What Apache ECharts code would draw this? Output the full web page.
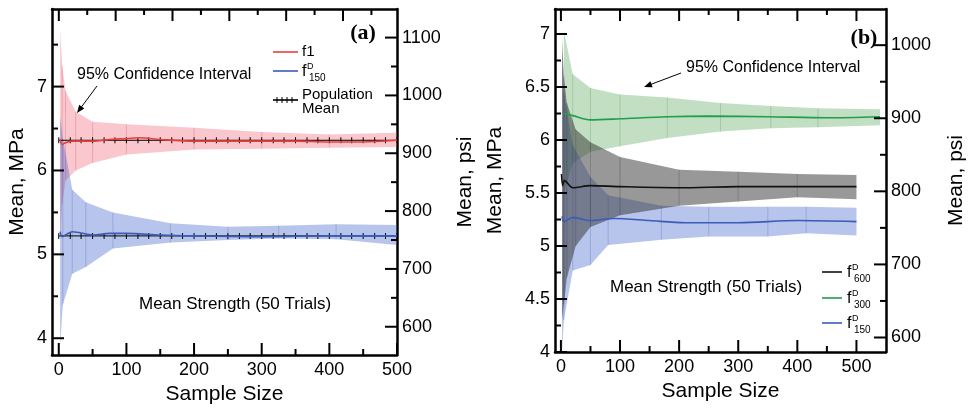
<!DOCTYPE html>
<html>
<head>
<meta charset="utf-8">
<script src="https://cdn.jsdelivr.net/npm/echarts@6/dist/echarts.min.js"></script>
<style>
  html, body { margin: 0; padding: 0; background: #fff; }
  #chart { width: 968px; height: 410px; }
</style>
</head>
<body>
<div id="chart"></div>
<script>
// 1 MPa in psi
const PSI = 145.038;

// ---- panel (a) ----
const aRedN  = [2, 5, 10, 25, 50, 100, 200, 300, 400, 500];
const aRedHi = [7.68, 7.25, 6.95, 6.70, 6.58, 6.55, 6.51, 6.46, 6.43, 6.45];
const aRedLo = [5.15, 5.60, 5.88, 6.00, 6.09, 6.19, 6.25, 6.26, 6.27, 6.28];

const aBlueN  = [2, 6, 20, 40, 80, 165, 250, 325, 410, 500];
const aBlueHi = [6.65, 6.38, 5.77, 5.62, 5.50, 5.37, 5.33, 5.34, 5.36, 5.35];
const aBlueLo = [3.90, 4.40, 4.77, 4.85, 5.07, 5.14, 5.17, 5.19, 5.18, 5.11];

const aF1N = [2, 5, 10, 20, 30, 50, 75, 100, 120, 150, 200, 250, 300, 350, 400, 450, 500];
const aF1  = [6.37, 6.31, 6.33, 6.35, 6.35, 6.35, 6.37, 6.38, 6.39, 6.37, 6.35, 6.35, 6.35, 6.35, 6.34, 6.34, 6.36];

const aF150N = [2, 5, 10, 20, 30, 50, 75, 100, 150, 200, 300, 400, 500];
const aF150  = [5.27, 5.21, 5.23, 5.27, 5.26, 5.23, 5.25, 5.25, 5.23, 5.22, 5.21, 5.22, 5.22];

// population mean, drawn with tick marks
const popN = [0, 17, 33, 50, 67, 83, 100, 117, 133, 150, 167, 183, 200, 217, 233, 250,
              267, 283, 300, 317, 333, 350, 367, 383, 400, 417, 433, 450, 467, 483, 500];
const aPopF1 = 6.36;
const aPopF150 = 5.22;

// ---- panel (b) ----
const bGreenN  = [5, 20, 50, 100, 180, 270, 355, 435, 540];
const bGreenHi = [7.03, 6.62, 6.49, 6.43, 6.40, 6.35, 6.32, 6.30, 6.29];
const bGreenLo = [5.50, 5.78, 5.89, 5.94, 6.02, 6.08, 6.11, 6.12, 6.14];
const bF300N = [5, 20, 50, 100, 180, 250, 350, 450, 540];
const bF300  = [6.25, 6.23, 6.19, 6.20, 6.22, 6.225, 6.22, 6.21, 6.22];

const bGreyN  = [2, 5, 10, 25, 50, 100, 200, 300, 400, 500];
const bGreyHi = [6.95, 6.60, 6.35, 6.10, 5.98, 5.84, 5.72, 5.70, 5.68, 5.67];
const bGreyLo = [4.30, 4.45, 4.70, 5.00, 5.18, 5.29, 5.38, 5.42, 5.46, 5.44];
const bF600N = [1, 3, 6, 10, 20, 50, 100, 200, 300, 400, 500];
const bF600  = [5.68, 5.57, 5.62, 5.60, 5.55, 5.57, 5.56, 5.55, 5.56, 5.56, 5.56];

const bBlueN  = [2, 5, 20, 50, 80, 170, 250, 350, 415, 500];
const bBlueHi = [6.85, 6.45, 5.95, 5.65, 5.48, 5.38, 5.37, 5.37, 5.37, 5.36];
const bBlueLo = [4.00, 4.30, 4.77, 4.82, 5.01, 5.06, 5.09, 5.09, 5.12, 5.10];
const bF150N = [2, 5, 20, 50, 90, 150, 210, 300, 400, 500];
const bF150  = [5.28, 5.23, 5.27, 5.24, 5.26, 5.24, 5.22, 5.22, 5.24, 5.23];

// ---- ticks ----
const aXMajor = [0, 100, 200, 300, 400, 500];
const aXMinor = [50, 150, 250, 350, 450];
const aTopMajor = [0, 100, 200, 300, 400, 500];
const aTopMinor = [50, 150, 250, 350, 450, 550];
const aYMajor = [4, 5, 6, 7];
const aYMinor = [4.5, 5.5, 6.5, 7.5];
const aPsiMajor = [600, 700, 800, 900, 1000, 1100];
const aPsiMinor = [650, 750, 850, 950, 1050];

const bXMajor = [0, 100, 200, 300, 400, 500];
const bXMinor = [50, 150, 250, 350, 450];
const bYMajor = [4, 4.5, 5, 5.5, 6, 6.5, 7];
const bYMinor = [4.25, 4.75, 5.25, 5.75, 6.25, 6.75];
const bPsiMajor = [600, 700, 800, 900, 1000];
const bPsiMinor = [650, 750, 850, 950];

// axis ranges
const aX = [-10, 500], aTop = [-12, 595], aY = [3.80, 7.925];
const bX = [-10, 550], bY = [4.0, 7.236];
const aPsi = [aY[0] * PSI, aY[1] * PSI], bPsi = [bY[0] * PSI, bY[1] * PSI];

const FONT = '"Liberation Sans", Arial, sans-serif';

function axis(grid, pos, range, labels, o) {
  o = o || {};
  return {
    type: 'value', gridIndex: grid, position: pos, min: range[0], max: range[1],
    axisLine: { show: true, onZero: false, lineStyle: { color: '#000', width: 2.5 } },
    axisTick: { show: false },
    axisLabel: { show: !!labels, customValues: labels || [], color: '#000', fontSize: 18,
                 fontFamily: FONT, margin: o.margin || 5, formatter: v => String(v) },
    splitLine: { show: false },
    name: o.name || '', nameLocation: 'middle', nameGap: o.gap || 20,
    nameRotate: o.rotate, nameTextStyle: { color: '#000', fontSize: 21, fontFamily: FONT }
  };
}

// inward tick marks placed through the axis scales
function ticks(xi, yi, side, vals, edge, len) {
  const vert = side === 'left' || side === 'right';
  return {
    type: 'custom', xAxisIndex: xi, yAxisIndex: yi, silent: true, z: 10, clip: false,
    data: vals.map(v => vert ? [edge, v] : [v, edge]),
    renderItem: function (params, api) {
      const p = api.coord([api.value(0), api.value(1)]);
      let dx = 0, dy = 0;
      if (side === 'left') dx = len;
      if (side === 'right') dx = -len;
      if (side === 'bottom') dy = -len;
      if (side === 'top') dy = len;
      return { type: 'line', shape: { x1: p[0], y1: p[1], x2: p[0] + dx, y2: p[1] + dy },
               style: { stroke: '#000', lineWidth: 2 } };
    }
  };
}

function band(xi, yi, n, lo, hi, fill, seam, z) {
  return {
    type: 'custom', xAxisIndex: xi, yAxisIndex: yi, silent: true, z: z,
    data: n.map((v, i) => [v, lo[i], hi[i]]),
    encode: { x: 0, y: [1, 2] },
    renderItem: function (params, api) {
      const i = params.dataIndex;
      const ch = [];
      if (i < n.length - 1) {
        ch.push({
          type: 'polygon',
          shape: { points: [api.coord([n[i], lo[i]]), api.coord([n[i + 1], lo[i + 1]]),
                            api.coord([n[i + 1], hi[i + 1]]), api.coord([n[i], hi[i]])] },
          style: { fill: fill }
        });
      }
      if (i > 0 && i < n.length - 1) {
        const p = api.coord([n[i], lo[i]]), q = api.coord([n[i], hi[i]]);
        ch.push({ type: 'line', shape: { x1: p[0], y1: p[1], x2: q[0], y2: q[1] },
                  style: { stroke: seam, lineWidth: 1 } });
      }
      return { type: 'group', children: ch };
    }
  };
}

function line(xi, yi, n, v, color, z) {
  return {
    type: 'line', xAxisIndex: xi, yAxisIndex: yi, z: z,
    data: n.map((x, i) => [x, v[i]]),
    showSymbol: false, smooth: 0.3, silent: true,
    lineStyle: { color: color, width: 1.6 }
  };
}

function popLine(val) {
  return {
    type: 'line', xAxisIndex: 0, yAxisIndex: 0, z: 4, silent: true,
    data: popN.map(x => [x, val]),
    symbol: 'rect', symbolSize: [1, 6], showSymbol: true,
    itemStyle: { color: '#000' },
    lineStyle: { color: '#000', width: 1 }
  };
}

function arrow(x1, y1, x2, y2) {
  const dx = x2 - x1, dy = y2 - y1, L = Math.sqrt(dx * dx + dy * dy);
  const ux = dx / L, uy = dy / L, h = 8, w = 3.2;
  return [
    { type: 'line', shape: { x1: x1, y1: y1, x2: x2 - ux * 4, y2: y2 - uy * 4 },
      style: { stroke: '#000', lineWidth: 1 } },
    { type: 'polygon', shape: { points: [[x2, y2],
        [x2 - ux * h - uy * w, y2 - uy * h + ux * w],
        [x2 - ux * h + uy * w, y2 - uy * h - ux * w]] },
      style: { fill: '#000' } }
  ];
}

function txt(x, y, s, size, extra) {
  return { type: 'text', x: x, y: y,
    style: Object.assign({ text: s, fontSize: size, fontFamily: FONT, fill: '#000',
                           align: 'left', verticalAlign: 'middle' }, extra || {}) };
}

function fLabel(x, y, sub) {
  return [
    txt(x, y, 'f', 16),
    txt(x + 5, y - 5, 'D', 9),
    txt(x + 7, y + 6, sub, 10)
  ];
}

function legLine(x1, x2, y, color) {
  return { type: 'line', shape: { x1: x1, y1: y, x2: x2, y2: y },
           style: { stroke: color, lineWidth: 1.6 } };
}

const RED = '#e8413c', BLUE = '#3a5cb8', GREEN = '#1f9e4c', BLACK = '#111';
const SERIF = '"Liberation Serif", "Times New Roman", serif';

const graphics = [].concat(
  [txt(363, 33, '(a)', 22, { align: 'center', fontFamily: SERIF, fontWeight: 'bold' }),
   txt(864, 38, '(b)', 22, { align: 'center', fontFamily: SERIF, fontWeight: 'bold' }),
   txt(77, 75, '95% Confidence Interval', 16),
   txt(686, 68, '95% Confidence Interval', 16),
   txt(139, 304, 'Mean Strength (50 Trials)', 17),
   txt(610, 287, 'Mean Strength (50 Trials)', 17)],
  arrow(97, 86, 77, 113),
  arrow(681, 73, 644, 87),
  // legend (a)
  [legLine(273, 298, 52, RED), txt(302, 52, 'f1', 15),
   legLine(273, 298, 71, BLUE)],
  fLabel(302, 72, '150'),
  [legLine(273, 298, 100, '#000'),
   txt(302, 95, 'Population', 15), txt(302, 109, 'Mean', 15)],
  [277, 282, 287, 292].map(x => ({ type: 'line', shape: { x1: x, y1: 97, x2: x, y2: 103 },
                                   style: { stroke: '#000', lineWidth: 1 } })),
  // legend (b)
  [legLine(822, 842, 272, BLACK), legLine(822, 842, 298, GREEN), legLine(822, 842, 323, BLUE)],
  fLabel(847, 273, '600'),
  fLabel(847, 299, '300'),
  fLabel(847, 324, '150')
);

const chart = echarts.init(document.getElementById('chart'));
chart.setOption({
  animation: false,
  backgroundColor: '#fff',
  textStyle: { fontFamily: FONT },
  grid: [
    { left: 52, top: 9, width: 345, height: 346 },
    { left: 555, top: 9, width: 341, height: 343 }
  ],
  xAxis: [
    axis(0, 'bottom', aX, aXMajor, { margin: 6, name: 'Sample Size', gap: 22 }),
    axis(0, 'top', aTop, null),
    axis(1, 'bottom', bX, bXMajor, { margin: 6, name: 'Sample Size', gap: 27 }),
    axis(1, 'top', bX, null)
  ],
  yAxis: [
    axis(0, 'left', aY, aYMajor, { name: 'Mean, MPa', gap: 24, rotate: 90 }),
    axis(0, 'right', aPsi, aPsiMajor, { name: 'Mean, psi', gap: 58, rotate: 90 }),
    axis(1, 'left', bY, bYMajor, { name: 'Mean, MPa', gap: 49, rotate: 90 }),
    axis(1, 'right', bPsi, bPsiMajor, { name: 'Mean, psi', gap: 60, rotate: 90 })
  ],
  series: [
    band(0, 0, aRedN, aRedLo, aRedHi, 'rgba(235,70,90,0.30)', 'rgba(200,60,80,0.25)', 1),
    band(0, 0, aBlueN, aBlueLo, aBlueHi, 'rgba(60,95,200,0.37)', 'rgba(50,80,170,0.25)', 1),
    popLine(aPopF1),
    popLine(aPopF150),
    line(0, 0, aF1N, aF1, RED, 5),
    line(0, 0, aF150N, aF150, BLUE, 5),

    band(2, 2, bGreenN, bGreenLo, bGreenHi, 'rgba(80,160,80,0.34)', 'rgba(60,130,60,0.25)', 1),
    band(2, 2, bBlueN, bBlueLo, bBlueHi, 'rgba(60,95,200,0.37)', 'rgba(50,80,170,0.25)', 1),
    band(2, 2, bGreyN, bGreyLo, bGreyHi, 'rgba(50,50,50,0.50)', 'rgba(30,30,30,0.25)', 1),
    line(2, 2, bF300N, bF300, GREEN, 5),
    line(2, 2, bF600N, bF600, BLACK, 5),
    line(2, 2, bF150N, bF150, BLUE, 5),

    // tick marks, panel (a)
    ticks(0, 0, 'bottom', aXMajor, aY[0], 12),
    ticks(0, 0, 'bottom', aXMinor, aY[0], 6),
    ticks(1, 0, 'top', aTopMajor, aY[1], 12),
    ticks(1, 0, 'top', aTopMinor, aY[1], 6),
    ticks(0, 0, 'left', aYMajor, aX[0], 12),
    ticks(0, 0, 'left', aYMinor, aX[0], 6),
    ticks(0, 1, 'right', aPsiMajor, aX[1], 12),
    ticks(0, 1, 'right', aPsiMinor, aX[1], 6),
    // tick marks, panel (b)
    ticks(2, 2, 'bottom', bXMajor, bY[0], 12),
    ticks(2, 2, 'bottom', bXMinor, bY[0], 6),
    ticks(3, 2, 'top', bXMajor, bY[1], 12),
    ticks(3, 2, 'top', bXMinor, bY[1], 6),
    ticks(2, 2, 'left', bYMajor, bX[0], 12),
    ticks(2, 2, 'left', bYMinor, bX[0], 6),
    ticks(2, 3, 'right', bPsiMajor, bX[1], 12),
    ticks(2, 3, 'right', bPsiMinor, bX[1], 6)
  ],
  graphic: graphics
});
</script>
</body>
</html>
